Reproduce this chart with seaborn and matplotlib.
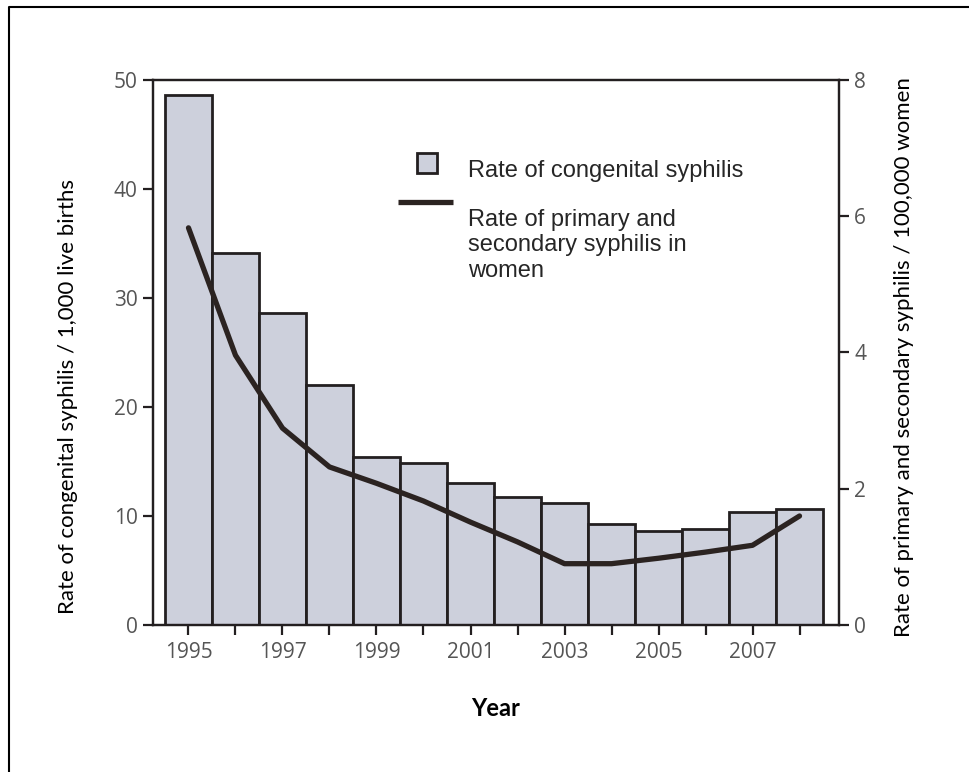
import matplotlib
matplotlib.use("Agg")
import matplotlib.pyplot as plt
from matplotlib.patches import Rectangle
from matplotlib.lines import Line2D
import seaborn as sns

# data
years = list(range(1995, 2009))
congenital_rate = [48.6, 34.1, 28.6, 22.0, 15.4, 14.9, 13.0, 11.7, 11.2, 9.3, 8.6, 8.8, 10.4, 10.6]
women_rate = [5.83, 3.96, 2.89, 2.32, 2.08, 1.82, 1.51, 1.22, 0.90, 0.90, 0.98, 1.07, 1.17, 1.60]
left_ticks = [0, 10, 20, 30, 40, 50]
right_ticks = [0, 2, 4, 6, 8]
year_labels = [str(y) if y % 2 == 1 else "" for y in years]

BAR_FILL = "#cdd0dc"
DARK = "#231f20"
TICK_GREY = "#555555"

sns.set_style("white")
plt.rcParams["font.family"] = ["Open Sans", "DejaVu Sans"]

fig = plt.figure(figsize=(9.69, 7.72), dpi=100)
ax = fig.add_axes([153 / 969, 1 - 625 / 772, 686 / 969, 545 / 772])

sns.barplot(x=years, y=congenital_rate, native_scale=True, width=1,
            color=BAR_FILL, saturation=1, edgecolor=DARK, linewidth=2.0, ax=ax)
ax.set_xlim(1994.245, 2008.84)
ax.set_ylim(0, 50)
ax.set_yticks(left_ticks)
ax.set_xticks(years)
ax.set_xticklabels(year_labels)

ax2 = ax.twinx()
sns.lineplot(x=years, y=women_rate, color="#2b2321", linewidth=3.8, ax=ax2)
ax2.set_ylim(0, 8)
ax2.set_yticks(right_ticks)
ax2.set_xlim(1994.245, 2008.84)

for a in (ax, ax2):
    for s in a.spines.values():
        s.set_visible(True)
        s.set_color(DARK)
        s.set_linewidth(1.6)
    a.grid(False)
    a.set_xlabel("")
    a.set_ylabel("")

ax.tick_params(axis="both", direction="out", length=7, width=1.6, color=DARK,
               labelcolor=TICK_GREY, labelsize=15, pad=4)
ax.tick_params(axis="x", pad=5, bottom=True)
ax.tick_params(axis="y", left=True)
ax2.tick_params(axis="y", direction="out", length=7, width=1.6, color=DARK,
                labelcolor=TICK_GREY, labelsize=15, pad=4, right=True)

# axis titles
label_font = ["Lato", "DejaVu Sans"]
ax.set_ylabel("Rate of congenital syphilis / 1,000 live births",
              family=label_font, fontsize=16, color="black")
ax.yaxis.set_label_coords((68 - 153) / 686, (625 - 396) / 545)
ax2.set_ylabel("Rate of primary and secondary syphilis / 100,000 women",
               family=label_font, fontsize=16, color="black", rotation=90)
ax2.yaxis.set_label_coords((904 - 153) / 686, (625 - 357) / 545)
for lab in (ax.yaxis.label, ax2.yaxis.label):
    lab.set_horizontalalignment("center")
    lab.set_verticalalignment("center")
ax.set_xlabel("Year", family=label_font, fontsize=17,
              fontweight="bold", color="black")
ax.xaxis.set_label_coords(0.5, (625 - 708) / 545)
ax.xaxis.label.set_verticalalignment("center")

# legend drawn by hand
ax2.add_patch(Rectangle((0.385, 0.829), 0.029, 0.037, transform=ax2.transAxes,
                        facecolor=BAR_FILL, edgecolor=DARK, linewidth=2, clip_on=False))
ax2.add_line(Line2D([0.357, 0.437], [0.776, 0.776], transform=ax2.transAxes,
                    color="#2b2321", linewidth=3.8, solid_capstyle="butt"))
legend_font = ["Liberation Sans", "DejaVu Sans"]
ax2.text(0.459, 0.822, "Rate of congenital syphilis", transform=ax2.transAxes,
         family=legend_font, fontsize=17, va="baseline", ha="left")
# baseline of a multi-line text is the last line's ("women")
ax2.text(0.459, 0.6385, "Rate of primary and\nsecondary syphilis in\nwomen",
         transform=ax2.transAxes, family=legend_font, fontsize=17,
         va="baseline", ha="left", linespacing=1.22)

# outer frame (top and left only)
fig.add_artist(Line2D([9 / 969, 9 / 969, 1], [0, 1 - 7 / 772, 1 - 7 / 772],
                      transform=fig.transFigure, color="black", linewidth=1.5))

fig.savefig("out.png", dpi=100)
